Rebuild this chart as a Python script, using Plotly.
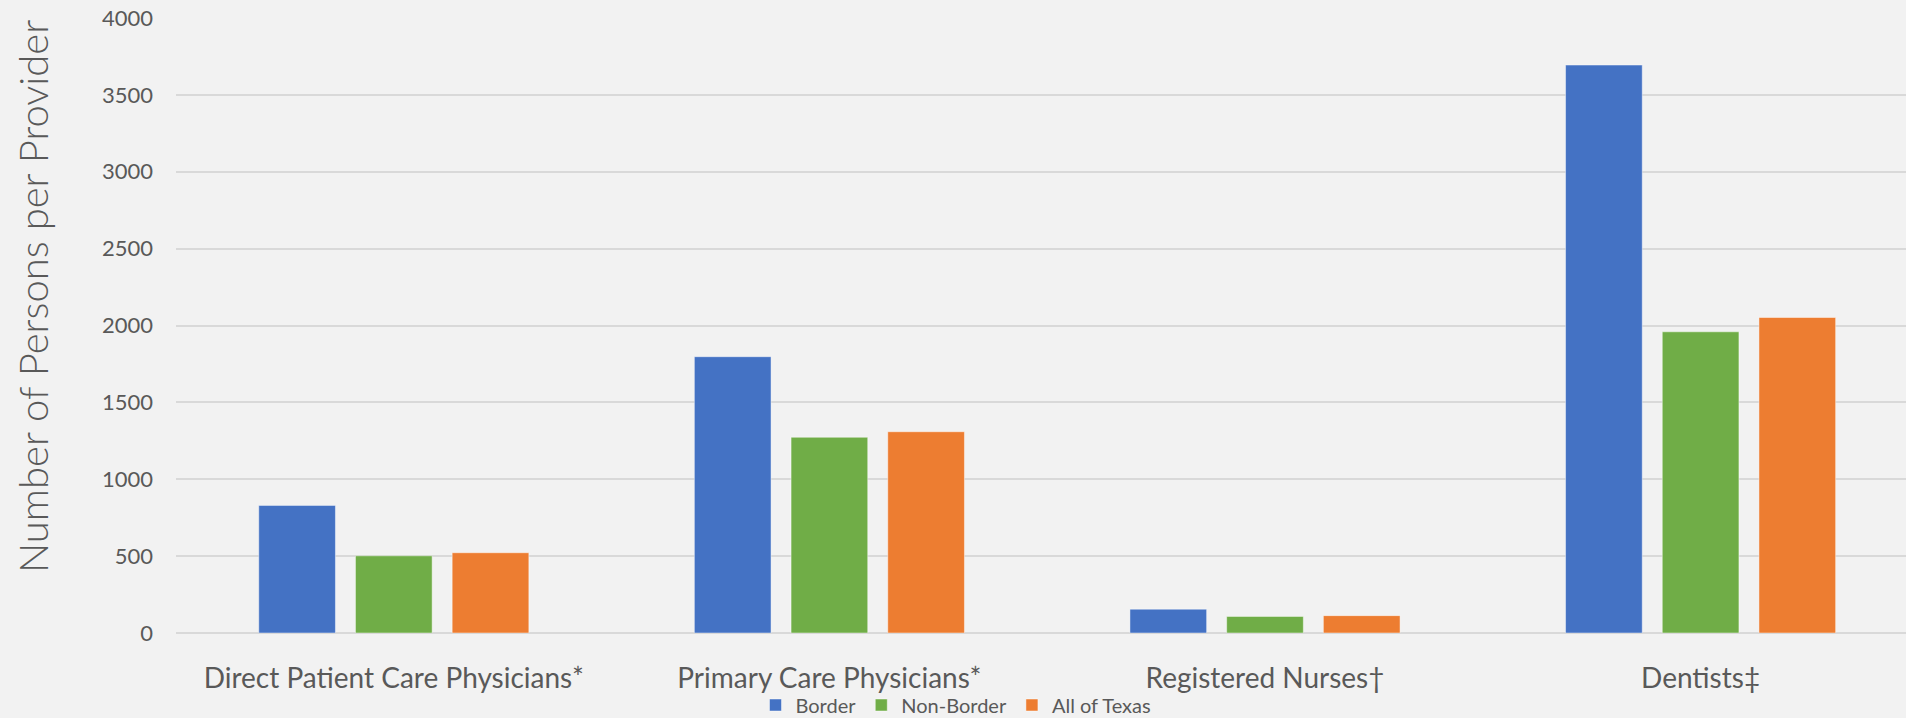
import plotly.graph_objects as go

categories = ["Direct Patient Care Physicians*", "Primary Care Physicians*", "Registered Nurses†", "Dentists‡"]
series_names = ["Border", "Non-Border", "All of Texas"]
border = [830, 1797, 155, 3694]
non_border = [502, 1273, 108, 1959]
all_texas = [522, 1309, 113, 2052]
colors = ["#4472C4", "#70AD47", "#ED7D31"]
y_ticks = [0, 500, 1000, 1500, 2000, 2500, 3000, 3500, 4000]

W, H = 1906, 718
left, right_edge, top, bottom = 176, 1906, 18, 633
plot_w = right_edge - left
plot_h = bottom - top
cat_px = 435.6

fig = go.Figure()
for name, vals, col in zip(series_names, [border, non_border, all_texas], colors):
    fig.add_trace(go.Bar(
        x=categories, y=vals, name=name,
        marker=dict(color=col, line=dict(color="rgba(255,255,255,0.45)", width=1)),
    ))

fig.update_layout(
    width=W, height=H,
    autosize=False,
    paper_bgcolor="#F2F2F2",
    plot_bgcolor="#F2F2F2",
    margin=dict(l=left, r=W - right_edge, t=top, b=H - bottom, pad=0, autoexpand=False),
    barmode="group",
    bargap=0.334,
    bargroupgap=0.207,
    font=dict(family="Lato, Open Sans, sans-serif", color="#595959"),
    showlegend=True,
    legend=dict(
        orientation="h",
        xref="container", yref="container",
        x=956 / W, xanchor="center",
        y=(H - 705) / H, yanchor="middle",
        font=dict(size=20, color="#595959"),
        bgcolor="rgba(0,0,0,0)",
        itemwidth=30,
        traceorder="normal",
        tracegroupgap=0,
    ),
    xaxis=dict(
        range=[-0.5, -0.5 + plot_w / cat_px],
        showgrid=False,
        showline=False,
        ticks="",
        tickfont=dict(size=28, color="#595959"),
        ticklabelstandoff=26,
        automargin=False,
        fixedrange=True,
    ),
    yaxis=dict(
        range=[0, 4000],
        tickvals=y_ticks,
        ticktext=[str(v) for v in y_ticks],
        showgrid=True,
        gridcolor="#D9D9D9",
        gridwidth=1.5,
        zeroline=True,
        zerolinecolor="#D9D9D9",
        zerolinewidth=1.5,
        showline=False,
        ticks="",
        tickfont=dict(size=22, color="#595959"),
        ticklabelstandoff=22,
        automargin=False,
        fixedrange=True,
    ),
    annotations=[dict(
        text="Number of Persons per Provider",
        xref="paper", yref="paper",
        x=(33 - left) / plot_w, y=(bottom - 297) / plot_h,
        xanchor="center", yanchor="middle",
        textangle=-90,
        showarrow=False,
        font=dict(size=40, color="#595959", family="Lato, Open Sans, sans-serif", weight=300),
    )],
)

fig.write_html(
    "out.html",
    config={"displayModeBar": False},
    post_script="document.body.style.margin='0px';document.body.style.overflow='hidden';",
)
